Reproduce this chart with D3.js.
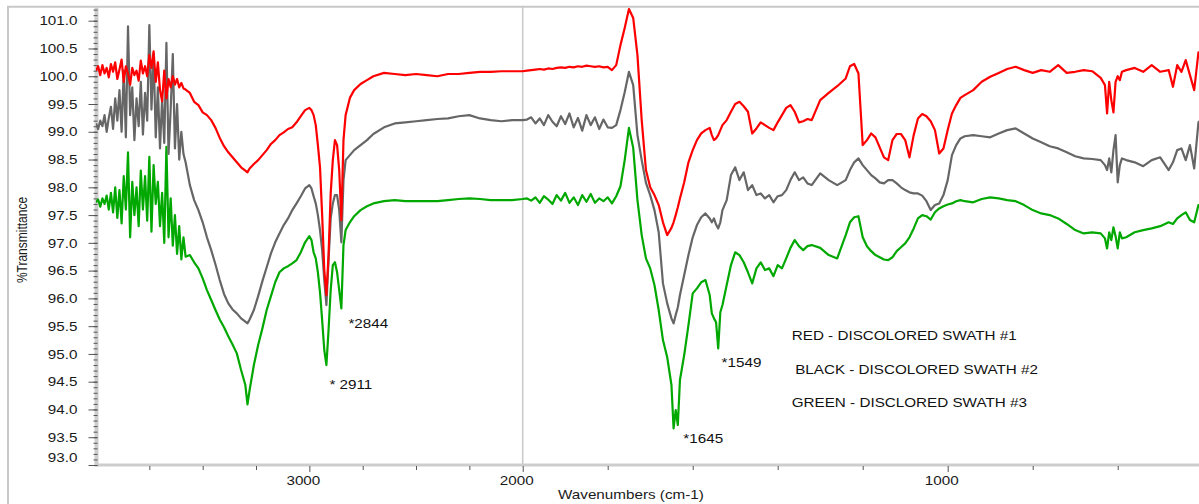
<!DOCTYPE html>
<html><head><meta charset="utf-8">
<script src="https://cdn.jsdelivr.net/npm/d3@7"></script>
<style>
html,body{margin:0;padding:0;background:#fff;overflow:hidden}
svg{display:block}
</style></head><body>
<svg id="chart" width="1199" height="504"></svg>
<script>
// ---------- data ----------
const wavenumbers = [
4000,3990,3980,3970,3960,3950,3940,3930,3920,3910,3900,3890,3880,3870,3860,3850,3840,3830,3820,3810,3800,3790,3780,3770,3760,3750,3740,3730,3720,3710,3700,3690,3680,3670,3660,3650,3640,3630,3620,3610,3600,3590,3580,
3560,3540,3520,3500,3480,3460,3440,3420,3400,3380,3360,3340,3320,3300,3290,3280,3260,3240,3220,3200,3180,3160,3140,3120,3100,3080,3060,3040,3020,3000,
2990,2980,2970,2960,2950,2940,2930,2920,2910,2900,2890,2880,2870,2860,2850,2840,2830,2810,2790,2760,2730,2700,
2650,2600,2550,2500,2450,2400,2350,2300,2250,2200,2150,2100,2050,2000,
1990,1980,1970,1960,1950,1940,1930,1920,1910,1900,1890,1880,1870,1860,1850,1840,1830,1820,1810,1800,
1790,1780,1770,1760,1750,1740,1730,1720,1710,1700,1690,1680,1670,1660,1650,
1645,1640,1635,1630,
1620,1610,1600,1590,1580,1570,1560,
1555,1550,1545,1540,1535,1530,
1520,1510,1500,1490,1480,1470,1460,1450,1440,1430,1420,1410,1400,1390,1380,1370,1360,1350,1340,1330,1320,
1300,1280,1260,1240,
1230,1220,1210,1200,1190,1180,1170,1160,1150,1140,1130,1120,1110,1100,1090,1080,1070,1060,1050,1040,1030,1020,1010,1000,990,980,970,960,
940,920,900,880,860,840,820,800,780,760,740,720,700,680,660,
640,630,625,620,615,610,605,600,595,590,
580,560,540,520,500,480,
470,460,450,440,430,420,410,400
];

const redSwath1 = [
100.10,100.18,100.02,100.20,100.05,100.15,99.98,100.22,100.08,100.25,99.95,100.12,100.30,99.90,100.18,100.05,99.85,100.15,100.02,100.10,99.92,100.28,100.05,100.18,100.00,100.38,100.15,100.45,99.90,100.25,99.75,99.55,100.10,99.60,99.95,99.80,100.00,99.85,99.95,99.80,99.88,99.78,99.76,
99.70,99.54,99.48,99.35,99.30,99.21,99.07,98.89,98.74,98.63,98.54,98.45,98.36,98.30,98.27,98.34,98.42,98.49,98.58,98.67,98.78,98.85,98.94,98.99,99.05,99.08,99.17,99.28,99.39,99.43,
99.39,99.30,99.12,98.76,98.36,97.50,96.51,96.06,96.78,97.89,98.49,98.85,98.76,98.31,97.41,98.85,99.30,99.61,99.75,99.86,99.93,100.00,
100.06,100.04,100.02,100.04,100.02,100.00,100.04,100.04,100.06,100.08,100.08,100.09,100.09,100.09,
100.10,100.11,100.12,100.13,100.12,100.14,100.13,100.15,100.16,100.15,100.17,100.16,100.18,100.17,100.19,100.18,100.17,100.18,100.16,100.17,
100.11,100.20,100.56,100.87,101.21,101.05,100.38,99.21,98.31,98.00,97.86,97.68,97.37,97.14,97.27,
97.37,97.50,97.64,97.80,
98.09,98.45,98.67,98.85,98.97,99.03,99.07,
98.94,98.85,98.88,98.94,99.03,99.12,
99.21,99.36,99.50,99.54,99.46,99.36,98.97,99.06,99.17,99.12,99.07,99.03,99.17,99.30,99.43,99.48,99.36,99.17,99.19,99.23,99.21,
99.57,99.70,99.82,99.96,
100.18,100.22,100.05,98.76,98.85,98.97,98.90,98.72,98.54,98.49,98.85,98.96,98.96,98.85,98.54,98.94,99.24,99.32,99.28,99.19,99.03,98.61,98.70,99.03,99.33,99.48,99.61,99.66,
99.75,99.90,99.99,100.06,100.13,100.17,100.11,100.06,100.11,100.08,100.20,100.06,100.08,100.11,100.09,
99.97,99.84,99.33,99.90,99.57,99.35,99.90,100.00,99.93,100.08,
100.11,100.15,100.08,100.20,100.08,100.11,
99.81,100.20,100.08,100.29,100.02,99.75,100.43,100.29
];

const blackSwath2 = [
99.15,99.05,99.20,99.10,99.30,99.00,99.25,99.45,99.05,99.60,99.20,99.75,99.00,100.10,98.90,100.90,99.30,99.80,98.85,99.60,99.10,99.90,98.95,99.70,99.20,100.92,99.40,100.40,98.90,99.80,98.70,99.60,98.80,100.60,98.60,99.40,100.40,98.70,99.50,98.50,99.00,98.60,98.45,
98.04,97.77,97.59,97.37,97.10,96.87,96.61,96.33,96.08,95.91,95.80,95.73,95.64,95.58,95.55,95.62,95.79,96.04,96.31,96.56,96.81,97.01,97.17,97.32,97.44,97.59,97.71,97.84,97.98,98.04,
97.98,97.84,97.71,97.50,97.23,96.87,96.33,95.88,96.69,97.44,97.71,97.86,97.86,97.59,97.01,98.13,98.49,98.58,98.67,98.76,98.85,98.96,
99.08,99.15,99.17,99.19,99.21,99.23,99.24,99.28,99.30,99.24,99.21,99.19,99.21,99.21,
99.22,99.26,99.15,99.24,99.12,99.30,99.18,99.10,99.28,99.14,99.33,99.08,99.25,99.02,99.30,99.12,99.26,99.05,99.22,99.08,
99.07,99.12,99.39,99.71,100.08,99.84,98.94,98.49,98.08,97.86,97.59,97.19,96.27,95.91,95.64,
95.55,95.70,95.84,96.06,
96.42,96.78,97.10,97.32,97.46,97.53,97.44,
97.37,97.44,97.33,97.26,97.37,97.59,
97.77,98.22,98.36,98.13,98.27,97.95,98.04,97.86,97.89,97.80,97.86,97.73,97.84,97.86,97.95,98.13,98.27,98.13,98.18,98.07,98.04,
98.25,98.13,98.04,98.13,
98.31,98.45,98.52,98.40,98.31,98.22,98.16,98.09,98.07,98.13,98.13,98.07,98.00,97.95,97.91,97.89,97.89,97.85,97.75,97.59,97.68,97.71,97.86,98.13,98.58,98.76,98.88,98.92,
98.94,98.92,98.90,98.97,99.03,99.06,98.97,98.88,98.81,98.74,98.70,98.63,98.56,98.52,98.51,
98.49,98.40,98.31,98.52,98.27,98.67,98.94,98.09,98.40,98.52,
98.49,98.45,98.38,98.49,98.54,98.31,
98.45,98.67,98.70,98.49,98.76,98.34,99.17,99.24
];

const greenSwath3 = [
97.73,97.78,97.65,97.80,97.70,97.85,97.60,97.90,97.55,98.00,97.45,97.95,97.35,98.20,97.60,98.63,97.10,98.10,97.50,98.00,97.30,98.30,97.60,98.20,97.40,98.55,97.20,98.40,97.70,98.10,97.30,97.90,97.00,98.73,97.10,97.80,96.95,97.50,96.80,97.30,96.70,97.10,96.75,
96.78,96.65,96.54,96.36,96.15,95.97,95.79,95.62,95.48,95.32,95.17,95.01,94.71,94.44,94.09,94.35,94.80,95.16,95.46,95.79,96.04,96.29,96.47,96.54,96.58,96.63,96.69,96.83,97.01,97.12,
97.05,96.83,96.72,96.47,96.11,95.61,95.07,94.80,95.43,96.15,96.60,96.65,96.47,96.15,95.82,96.96,97.23,97.37,97.48,97.59,97.66,97.71,
97.75,97.77,97.75,97.75,97.75,97.75,97.77,97.79,97.80,97.79,97.77,97.77,97.77,97.79,
97.80,97.76,97.82,97.72,97.84,97.78,97.70,97.86,97.76,97.90,97.72,97.82,97.68,97.86,97.74,97.88,97.72,97.80,97.75,97.82,
97.71,97.84,98.02,98.49,99.07,98.71,97.77,97.14,96.72,96.54,96.24,95.79,95.25,94.94,94.44,
93.66,93.99,93.72,94.53,
94.98,95.52,96.09,96.18,96.29,96.33,96.06,
95.73,95.64,95.57,95.10,95.75,95.88,
96.24,96.60,96.83,96.78,96.65,96.47,96.27,96.54,96.65,96.51,96.54,96.40,96.60,96.54,96.72,96.91,97.05,96.94,96.87,96.94,96.96,
96.91,96.78,96.72,97.14,
97.37,97.46,97.48,97.10,96.94,96.85,96.78,96.74,96.70,96.69,96.74,96.85,96.92,96.99,97.10,97.26,97.44,97.50,97.48,97.42,97.55,97.62,97.66,97.69,97.71,97.75,97.77,97.75,
97.73,97.79,97.82,97.80,97.77,97.75,97.68,97.59,97.53,97.50,97.44,97.34,97.23,97.17,97.19,
97.17,97.08,96.90,97.19,97.05,97.28,97.12,96.90,97.19,97.08,
97.10,97.19,97.23,97.26,97.30,97.37,
97.34,97.44,97.50,97.55,97.41,97.37,97.68,97.62
];

const yMajorTicks = [93.0,93.5,94.0,94.5,95.0,95.5,96.0,96.5,97.0,97.5,98.0,98.5,99.0,99.5,100.0,100.5,101.0];
const xMajorTicks = [3750,3500,3250,3000,2750,2500,2250,2000,1800,1600,1400,1200,1000,800,600];
const xLabelTicks = [3000,2000,1000];

const seriesNames = ["GREEN - DISCLORED SWATH #3","BLACK - DISCOLORED SWATH #2","RED - DISCOLORED SWATH #1"];
const seriesColors = ["#00a800","#666666","#ff0000"];

const legendLabels = ["RED - DISCOLORED SWATH #1","BLACK - DISCOLORED SWATH #2","GREEN - DISCLORED SWATH #3"];
const legendWn = [1367,1359,1367];
const legendT = [95.25,94.63,94.05];

const peakLabels = ["*2844","* 2911","*1549","*1645"];
const peakLabelWn = [2817,2906,1532,1622];
const peakLabelT = [95.46,94.36,94.76,93.40];

[redSwath1, blackSwath2, greenSwath3].forEach((s,i)=>{
  if (s.length !== wavenumbers.length) console.error("length mismatch series", i, s.length, wavenumbers.length);
});

// ---------- drawing ----------
const FONT = '"Liberation Sans", Arial, Helvetica, sans-serif';
const SX = 1.27;
const svg = d3.select("#chart");

const x = d3.scaleLinear().domain([4000, 2000, 400]).range([96, 522.7, 1202.7]);
const y = d3.scaleLinear().domain([93, 101]).range([465, 20.7]);
const yTop = y(101.25);

// outer frame
svg.append("path").attr("d", `M8,504 V${yTop} H1199`)
  .attr("fill","none").attr("stroke","#c8c8c8").attr("stroke-width",2);

// scale-break line at 2000
svg.append("line").attr("x1", x(2000)).attr("x2", x(2000)).attr("y1", yTop).attr("y2", y(93))
  .attr("stroke","#c8c8c8").attr("stroke-width",1.5);

// axis bands
svg.append("rect").attr("x", 94.5).attr("y", yTop).attr("width", 4).attr("height", y(93) - yTop + 1.5).attr("fill","#cdcdcd");
svg.append("rect").attr("x", 94.5).attr("y", y(93) - 1.5).attr("width", 1199 - 94.5).attr("height", 3).attr("fill","#cdcdcd");

// minor y ticks
const yMinor = d3.range(930, 1013).map(d => d / 10);
const gMinor = svg.append("g").attr("transform","translate(97.5,0)")
  .call(d3.axisLeft(y).tickValues(yMinor).tickSize(4).tickFormat(""));
gMinor.select(".domain").remove();
gMinor.selectAll(".tick line").attr("stroke","#555");

// major y ticks + labels
const gY = svg.append("g").attr("transform","translate(97.5,0)")
  .call(d3.axisLeft(y).tickValues(yMajorTicks).tickSize(9).tickFormat(d3.format(".1f")));
gY.select(".domain").remove();
gY.selectAll(".tick line").attr("stroke","#555");
gY.selectAll(".tick text")
  .attr("x", null).attr("dy","0.35em")
  .attr("font-family", FONT).attr("font-size", 12).attr("fill","#1a1a1a")
  .attr("text-anchor","end")
  .attr("transform", d => `translate(-20,${d === 93 ? -8 : 0}) scale(${SX},1)`);

// x ticks
const gX = svg.append("g").attr("transform", `translate(0,${y(93) + 1})`)
  .call(d3.axisBottom(x).tickValues(xMajorTicks).tickSize(5)
    .tickFormat(d => xLabelTicks.includes(d) ? String(d) : ""));
gX.select(".domain").remove();
gX.selectAll(".tick line").attr("stroke","#555").attr("y2", d => xLabelTicks.includes(d) ? 6 : 4);
gX.selectAll(".tick text")
  .attr("y", 0).attr("dy", 0)
  .attr("font-family", FONT).attr("font-size", 12).attr("fill","#1a1a1a")
  .attr("text-anchor","middle")
  .attr("transform", `translate(-6.5,18.5) scale(${SX},1)`);

// axis titles
svg.append("text").text("Wavenumbers (cm-1)")
  .attr("font-family", FONT).attr("font-size", 12).attr("fill","#1a1a1a")
  .attr("transform", `translate(558,499) scale(${SX},1)`);
svg.append("text").text("%Transmittance")
  .attr("font-family", FONT).attr("font-size", 12).attr("fill","#1a1a1a")
  .attr("text-anchor","middle")
  .attr("transform", `translate(27,240) scale(${SX},1) rotate(-90)`);

// clip
svg.append("clipPath").attr("id","plotclip").append("rect")
  .attr("x", 96).attr("y", 0).attr("width", 1199 - 96).attr("height", y(93) - 1.5);

const line = d3.line().x(d => x(d[0])).y(d => y(d[1]));
const seriesData = [greenSwath3, blackSwath2, redSwath1];
const gLines = svg.append("g").attr("clip-path","url(#plotclip)");
seriesData.forEach((vals, i) => {
  gLines.append("path")
    .datum(wavenumbers.map((w, j) => [w, vals[j]]))
    .attr("fill","none")
    .attr("stroke", seriesColors[i])
    .attr("stroke-width", 2.2)
    .attr("stroke-linejoin","round")
    .attr("d", line)
    .append("title").text(seriesNames[i]);
});

// peak annotations
peakLabels.forEach((t, i) => {
  svg.append("text").text(t)
    .attr("font-family", FONT).attr("font-size", 12).attr("fill","#111")
    .attr("transform", `translate(${x(peakLabelWn[i])},${y(peakLabelT[i])}) scale(${SX},1)`);
});

// legend text
legendLabels.forEach((t, i) => {
  svg.append("text").text(t)
    .attr("font-family", FONT).attr("font-size", 12).attr("fill","#111")
    .attr("transform", `translate(${x(legendWn[i])},${y(legendT[i])}) scale(${SX},1)`);
});
</script>
</body></html>
